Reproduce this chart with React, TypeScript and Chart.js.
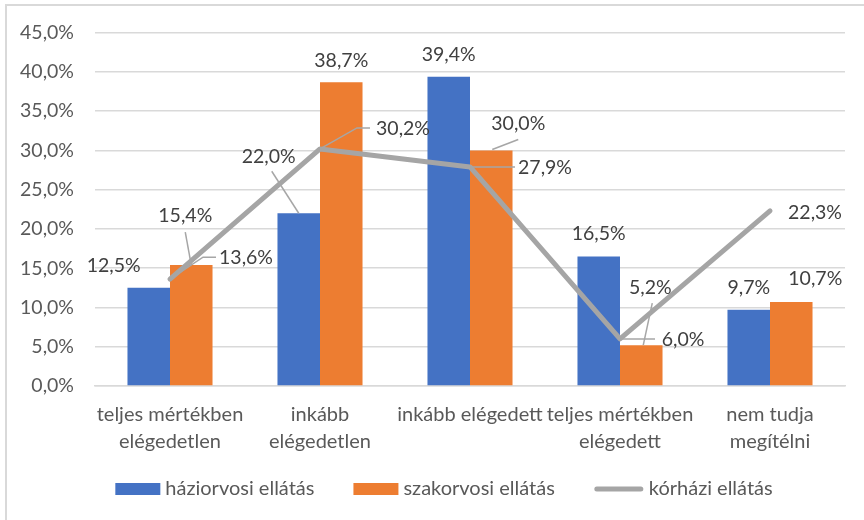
import React, { useEffect, useRef } from "react";
import { Chart, registerables } from "chart.js";

Chart.register(...registerables);

const categories: (string | string[])[] = [
  ["teljes mértékben", "elégedetlen"],
  ["inkább", "elégedetlen"],
  "inkább elégedett",
  ["teljes mértékben", "elégedett"],
  ["nem tudja", "megítélni"],
];
const haziorvosi = [12.5, 22.0, 39.4, 16.5, 9.7];
const szakorvosi = [15.4, 38.7, 30.0, 5.2, 10.7];
const korhazi = [13.6, 30.2, 27.9, 6.0, 22.3];
const seriesNames = ["háziorvosi ellátás", "szakorvosi ellátás", "kórházi ellátás"];
const yMin = 0;
const yMax = 45;
const yStep = 5;

const BLUE = "#4472C4";
const ORANGE = "#ED7D31";
const GRAY = "#A5A5A5";
const FONT = "Lato, 'Noto Sans', sans-serif";

const fmt = (v: number) => v.toFixed(1).replace(".", ",") + "%";

type LabelPos = { dx: number; dy: number; leader?: number[][] };
// label placement relative to each mark's anchor (dataset order: blue, orange, line)
const labelPlacement: LabelPos[][] = [
  [
    { dx: -35, dy: -22 },
    { dx: -30, dy: -57, leader: [[0, 0], [-27, -42]] },
    { dx: 0, dy: -22 },
    { dx: 0, dy: -23 },
    { dx: 0, dy: -22 },
  ],
  [
    { dx: -6, dy: -49, leader: [[0, 0], [-6, -33]] },
    { dx: 0, dy: -21 },
    { dx: 27, dy: -27, leader: [[1, -1], [27, -11]] },
    { dx: 9, dy: -57, leader: [[2, 0], [11, -42]] },
    { dx: 24, dy: -23 },
  ],
  [
    { dx: 76, dy: -22, leader: [[0, 0], [33, -22], [46, -22]] },
    { dx: 83, dy: -20, leader: [[0, 0], [37, -21], [50, -21]] },
    { dx: 75, dy: 1, leader: [[0, 0], [45, 0]] },
    { dx: 63, dy: 1, leader: [[0, 0], [35, 0]] },
    { dx: 45, dy: 2 },
  ],
];

const framePlugin = {
  id: "frame",
  beforeDraw(chart: any) {
    const ctx = chart.ctx;
    ctx.save();
    ctx.fillStyle = "#ffffff";
    ctx.fillRect(0, 0, chart.width, chart.height);
    ctx.strokeStyle = "#D9D9D9";
    ctx.lineWidth = 2;
    ctx.beginPath();
    ctx.moveTo(6, chart.height + 5);
    ctx.lineTo(6, 5);
    ctx.lineTo(chart.width + 5, 5);
    ctx.stroke();
    ctx.restore();
  },
};

const labelsPlugin = {
  id: "dlabels",
  afterDatasetsDraw(chart: any) {
    const ctx = chart.ctx;
    ctx.save();
    chart.data.datasets.forEach((ds: any, di: number) => {
      const meta = chart.getDatasetMeta(di);
      meta.data.forEach((el: any, i: number) => {
        const p = labelPlacement[di][i];
        const ax = el.x;
        const ay = el.y;
        if (p.leader) {
          ctx.strokeStyle = "#A6A6A6";
          ctx.lineWidth = 1.5;
          ctx.beginPath();
          p.leader.forEach((pt, k) => {
            if (k === 0) ctx.moveTo(ax + pt[0], ay + pt[1]);
            else ctx.lineTo(ax + pt[0], ay + pt[1]);
          });
          ctx.stroke();
        }
        ctx.fillStyle = "#404040";
        ctx.font = `19.5px ${FONT}`;
        ctx.textAlign = "center";
        ctx.textBaseline = "middle";
        ctx.fillText(fmt(ds.data[i]), ax + p.dx, ay + p.dy);
      });
    });
    ctx.restore();
  },
};

const legendPlugin = {
  id: "customLegend",
  afterDraw(chart: any) {
    const ctx = chart.ctx;
    ctx.save();
    ctx.font = `20px ${FONT}`;
    const colors = [BLUE, ORANGE, GRAY];
    const symW = [45, 45, 50];
    const gapText = 5;
    const gapItem = 39;
    const widths = seriesNames.map((n, i) => symW[i] + gapText + ctx.measureText(n).width);
    const total = widths.reduce((a, b) => a + b, 0) + gapItem * (widths.length - 1);
    let x = 444 - total / 2;
    const y = 489;
    seriesNames.forEach((n, i) => {
      if (i < 2) {
        ctx.fillStyle = colors[i];
        ctx.fillRect(x, y - 6, symW[i], 12);
      } else {
        ctx.strokeStyle = colors[i];
        ctx.lineWidth = 5;
        ctx.lineCap = "round";
        ctx.beginPath();
        ctx.moveTo(x + 3, y);
        ctx.lineTo(x + symW[i] - 3, y);
        ctx.stroke();
      }
      ctx.fillStyle = "#595959";
      ctx.textAlign = "left";
      ctx.textBaseline = "middle";
      ctx.fillText(n, x + symW[i] + gapText, y);
      x += widths[i] + gapItem;
    });
    ctx.restore();
  },
};

export default function App() {
  const ref = useRef<HTMLCanvasElement>(null);
  useEffect(() => {
    if (!ref.current) return;
    const chart = new Chart(ref.current, {
      type: "bar",
      data: {
        labels: categories as any,
        datasets: [
          {
            type: "bar",
            label: seriesNames[0],
            data: haziorvosi,
            backgroundColor: BLUE,
            categoryPercentage: 0.567,
            barPercentage: 1,
            order: 1,
          },
          {
            type: "bar",
            label: seriesNames[1],
            data: szakorvosi,
            backgroundColor: ORANGE,
            categoryPercentage: 0.567,
            barPercentage: 1,
            order: 1,
          },
          {
            type: "line",
            label: seriesNames[2],
            data: korhazi,
            borderColor: GRAY,
            backgroundColor: GRAY,
            borderWidth: 5,
            pointRadius: 0,
            tension: 0,
            borderCapStyle: "round",
            borderJoinStyle: "round",
            order: 0,
          } as any,
        ],
      },
      options: {
        responsive: false,
        animation: false,
        layout: { padding: { left: 0, top: 31, right: 19, bottom: 60 } },
        plugins: {
          legend: { display: false },
          tooltip: { enabled: false },
        },
        scales: {
          x: {
            grid: { display: false, drawTicks: false },
            border: { display: true, color: "#D9D9D9", width: 1.5 },
            ticks: {
              autoSkip: false,
              maxRotation: 0,
              minRotation: 0,
              padding: 15,
              color: "#595959",
              font: { family: FONT, size: 20, lineHeight: 1.35 },
            },
            afterFit: (s: any) => {
              s.height = 74;
            },
          },
          y: {
            min: yMin,
            max: yMax,
            grid: { color: "#D9D9D9", lineWidth: 1.5, drawTicks: false },
            border: { display: false },
            ticks: {
              stepSize: yStep,
              padding: 21,
              color: "#595959",
              font: { family: FONT, size: 19.5 },
              callback: (v: any) => fmt(Number(v)),
            },
            afterFit: (s: any) => {
              s.width = 95;
            },
          },
        },
      },
      plugins: [framePlugin, labelsPlugin, legendPlugin],
    });
    return () => chart.destroy();
  }, []);
  return (
    <div style={{ position: "absolute", left: 0, top: 0, width: 864, height: 520, overflow: "hidden" }}>
      <canvas ref={ref} width={864} height={520} style={{ display: "block" }} />
    </div>
  );
}
